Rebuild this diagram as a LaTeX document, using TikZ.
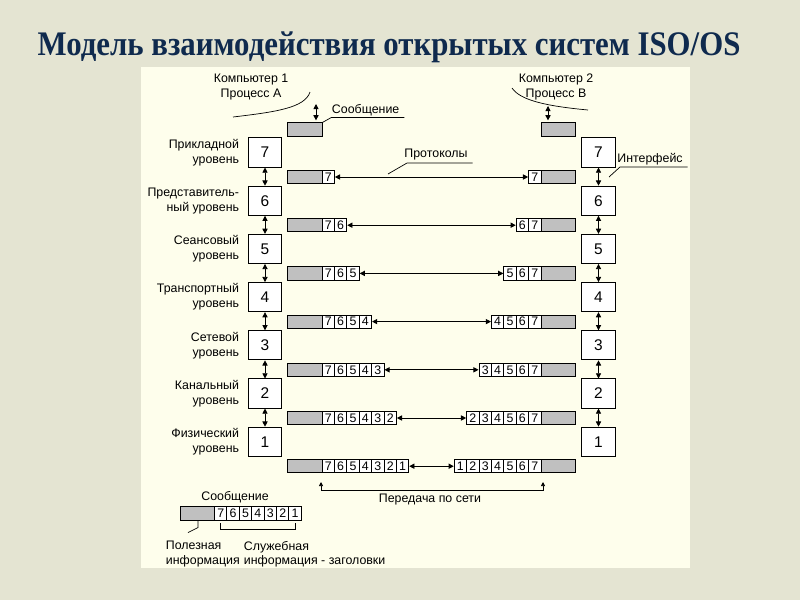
\documentclass[tikz,border=0pt]{standalone}
\usepackage{fontspec}
\setmainfont{Liberation Sans}
\newfontfamily\titlefont{Liberation Serif}
\usetikzlibrary{arrows.meta,positioning}
\definecolor{slidebg}{HTML}{E4E4D2}
\definecolor{panelbg}{HTML}{FEFEEC}
\definecolor{payload}{HTML}{C0C0C0}
\definecolor{titleblue}{HTML}{0F2A4E}

\begin{document}
\begin{tikzpicture}[x=0.025cm, y=-0.025cm,
  every node/.style={font=\fontsize{8.8}{10.6}\selectfont},
  layer/.style={draw, line width=0.6pt, fill=white, minimum width=0.83cm, minimum height=0.73cm,
                inner sep=0pt, font=\fontsize{11}{12}\selectfont},
  grey/.style={draw, line width=0.6pt, fill=payload, minimum width=0.86cm, minimum height=0.33cm, inner sep=0pt},
  hdr/.style={draw, line width=0.6pt, fill=white, minimum width=0.31cm, minimum height=0.33cm, inner sep=0pt},
  lvl/.style={align=right, anchor=east},
  dbl/.style={{Triangle[length=1.3mm,width=1.3mm]}-{Triangle[length=1.3mm,width=1.3mm]}, line width=0.6pt},
  lead/.style={line width=0.5pt}
]
\useasboundingbox (0,0) rectangle (800,600);
\fill[slidebg] (0,0) rectangle (800,600);
\fill[panelbg] (141,67) rectangle (690,568);

\node[font=\titlefont\bfseries\fontsize{24.5}{28}\selectfont, text=titleblue] (title) at (389,47)
  {\scalebox{0.895}[1]{Модель взаимодействия открытых систем ISO/OS}};

% processes on both computers
\node[align=center] (pc1) at (251,87) {Компьютер 1\\Процесс А};
\node[align=center] (pc2) at (556,87) {Компьютер 2\\Процесс В};
\draw[lead] (233,117) .. controls (275,112) and (305,108) .. (310,92);
\draw[lead] (512,88) .. controls (520,100) and (545,106) .. (588,110);

% layer stacks
\foreach \n/\txt in {7/{Прикладной\\уровень}, 6/{Представитель-\\ный уровень}, 5/{Сеансовый\\уровень},
                     4/{Транспортный\\уровень}, 3/{Сетевой\\уровень}, 2/{Канальный\\уровень},
                     1/{Физический\\уровень}} {
  \pgfmathsetmacro\yy{152.5+48.2*(7-\n)}
  \node[layer] (L\n) at (265,\yy) {\n};
  \node[layer] (R\n) at (598.5,\yy) {\n};
  \node[lvl] (N\n) at (244,\yy) {\txt};
}
\foreach \n [evaluate=\n as \m using int(\n-1)] in {7,...,2} {
  \draw[dbl] (L\n) -- (L\m);
  \draw[dbl] (R\n) -- (R\m);
}

% message from the process
\node[grey] (lg8) at (304.75,129.5) {};
\node[grey] (rg8) at (558.25,129.5) {};
\coordinate (pa) at (316,104);
\coordinate (pb) at (548,106);
\draw[dbl, shorten >=1.5pt] (pa) -- (pa |- lg8.north);
\draw[dbl, shorten >=1.5pt] (pb) -- (pb |- rg8.north);
\node[anchor=west] (msg) at (327,110) {Сообщение};
\draw[lead] (lg8.north east) -- ++(9,-5) coordinate (m1) -- (m1 -| msg.east);

% packets with headers
\foreach \n in {7,...,1} {
  \pgfmathsetmacro\yy{177+48.2*(7-\n)}
  \node[grey] (lg\n) at (304.75,\yy) {};
  \node[grey] (rg\n) at (558.25,\yy) {};
  \foreach \h in {7,...,\n} {
    \node[hdr] (lc\n-\h) at ({328.2+12.4*(7-\h)},\yy) {\h};
    \node[hdr] (rc\n-\h) at ({534.8-12.4*(7-\h)},\yy) {\h};
  }
  \draw[dbl] (lc\n-\n) -- (rc\n-\n);
}

% labels
\node (proto) at (436,155) {Протоколы};
\coordinate (pr) at (388,174);
\draw[lead] (pr) -- ++(19,-11) coordinate (p2) -- (p2 -| proto.east);
\node (intf) at (650,159) {Интерфейс};
\coordinate (ir) at (609,177);
\draw[lead] (ir) -- ++(11,-10) coordinate (i2) -- (i2 -| intf.east);

% network transfer
\node (net) at (430,500) {Передача по сети};
\coordinate (nl) at (321,482);
\coordinate (nr) at (543,482);
\draw[{Triangle[length=1mm,width=1mm]}-{Triangle[length=1mm,width=1mm]}, lead]
  (nl) -- (nl |- 0,490) -- (nr |- 0,490) -- (nr);

% legend
\node (lmsg) at (235,497) {Сообщение};
\node[grey] (leg) at (198,513.5) {};
\foreach \h in {7,...,1}
  \node[hdr] (lh\h) at ({220.7+12.4*(7-\h)},513.5) {\h};
\draw[lead] ([yshift=-2pt]lh7.south) -- ++(0,6) -| ([yshift=-2pt]lh1.south);
\draw[lead] (leg.south) -- ++(0,7) -- ++(-10,5);
\node[anchor=north west, align=left] (use) at (161,536) {Полезная\\информация};
\node[anchor=north west, align=left] (svc) at (239,536) {Служебная\\информация - заголовки};
\end{tikzpicture}
\end{document}
